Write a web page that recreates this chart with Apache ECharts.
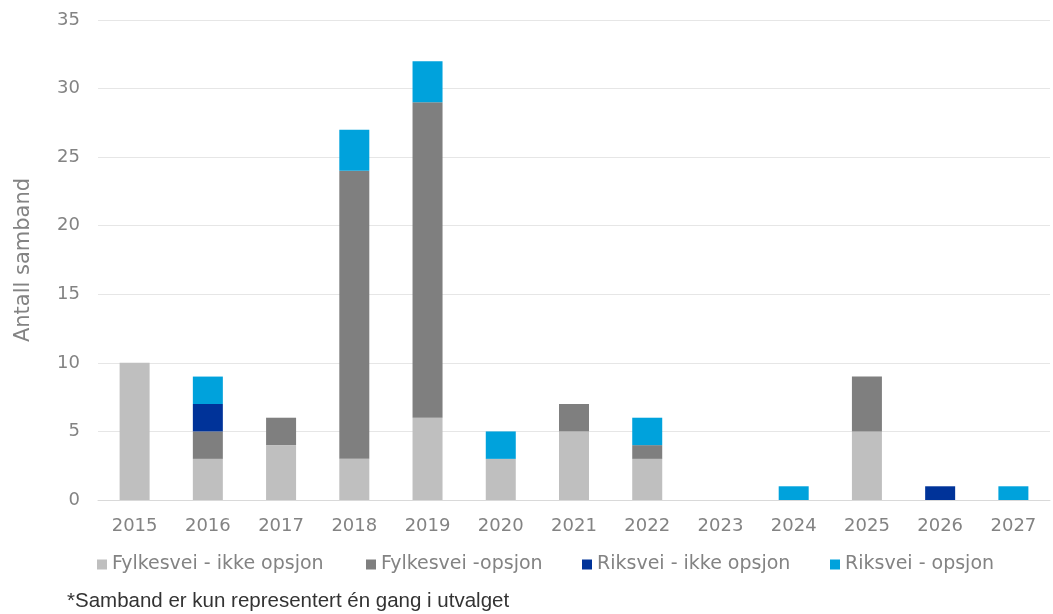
<!DOCTYPE html>
<html>
<head>
<meta charset="utf-8">
<script src="https://cdn.jsdelivr.net/npm/echarts@6/dist/echarts.min.js"></script>
<style>
  html, body { margin: 0; padding: 0; background: #fff; }
  #chart { width: 1053px; height: 614px; }
</style>
</head>
<body>
<div id="chart"></div>
<script>
// Years on the category axis
const years = ['2015', '2016', '2017', '2018', '2019', '2020', '2021', '2022', '2023', '2024', '2025', '2026', '2027'];

// Number of connections per year, by road type and option status
const fylkesveiIkkeOpsjon = [10, 3, 4, 3, 6, 3, 5, 3, 0, 0, 5, 0, 0];
const fylkesveiOpsjon     = [0, 2, 2, 21, 23, 0, 2, 1, 0, 0, 4, 0, 0];
const riksveiIkkeOpsjon   = [0, 2, 0, 0, 0, 0, 0, 0, 0, 0, 0, 1, 0];
const riksveiOpsjon       = [0, 2, 0, 3, 3, 2, 0, 2, 0, 1, 0, 0, 1];

const seriesNames = ['Fylkesvei - ikke opsjon', 'Fylkesvei -opsjon', 'Riksvei - ikke opsjon', 'Riksvei - opsjon'];
const seriesColors = ['#bfbfbf', '#7f7f7f', '#003399', '#00a2dc'];
const seriesData = [fylkesveiIkkeOpsjon, fylkesveiOpsjon, riksveiIkkeOpsjon, riksveiOpsjon];

const textGray = '#838383';
const font = 'DejaVu Sans, Verdana, sans-serif';

const chart = echarts.init(document.getElementById('chart'), null, { renderer: 'canvas' });

// Each legend entry is placed on its own so the row spacing stays fixed
const legendLefts = [92, 361, 577, 825];

chart.setOption({
  animation: false,
  grid: { left: 98, right: 3, top: 20, bottom: 114, containLabel: false },
  legend: seriesNames.map((name, i) => ({
    data: [name],
    left: legendLefts[i],
    top: 550,
    itemWidth: 10,
    itemHeight: 10,
    itemGap: 4,
    icon: 'rect',
    textStyle: { color: textGray, fontSize: 19, fontFamily: font, padding: [0, 0, 0, 0] }
  })),
  xAxis: {
    type: 'category',
    data: years,
    axisLine: { lineStyle: { color: '#d9d9d9', width: 1 } },
    axisTick: { show: false },
    axisLabel: { color: textGray, fontSize: 18, fontFamily: font, margin: 17 }
  },
  yAxis: {
    type: 'value',
    min: 0,
    max: 35,
    interval: 5,
    name: 'Antall samband',
    nameLocation: 'middle',
    nameGap: 64,
    nameRotate: 90,
    nameTextStyle: { color: textGray, fontSize: 21, fontFamily: font },
    axisLine: { show: false },
    axisTick: { show: false },
    axisLabel: { color: textGray, fontSize: 18, fontFamily: font, margin: 18 },
    splitLine: { lineStyle: { color: '#e6e6e6', width: 1 } }
  },
  series: seriesNames.map((name, i) => ({
    name: name,
    type: 'bar',
    stack: 'total',
    barWidth: 30,
    data: seriesData[i].map(v => (v === 0 ? null : v)),
    itemStyle: { color: seriesColors[i] }
  })),
  graphic: [{
    type: 'text',
    left: 67,
    top: 591,
    style: {
      text: '*Samband er kun representert én gang i utvalget',
      fill: '#333',
      fontSize: 20.5,
      fontFamily: 'Liberation Sans, Arial, sans-serif'
    }
  }]
});
</script>
</body>
</html>
